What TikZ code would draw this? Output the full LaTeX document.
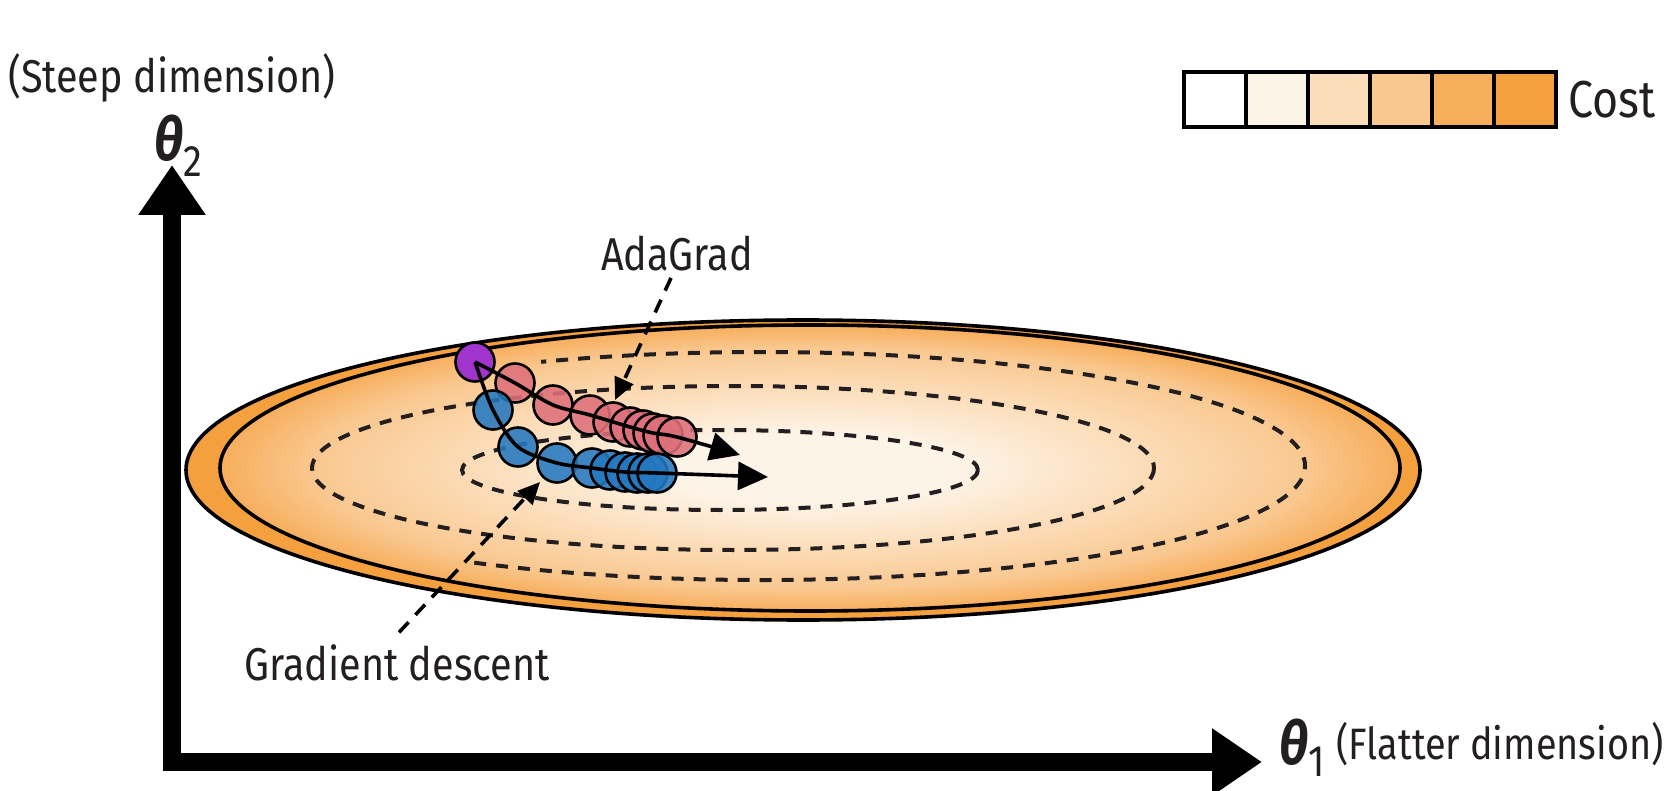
\documentclass[tikz,border=0pt]{standalone}
\usepackage{fontspec}
\setmainfont{Fira Sans}[FakeStretch=0.86]
\usetikzlibrary{arrows.meta,positioning}

\definecolor{cost0}{RGB}{255,255,255}
\definecolor{cost1}{RGB}{253,244,232}
\definecolor{cost2}{RGB}{252,221,185}
\definecolor{cost3}{RGB}{249,200,144}
\definecolor{cost4}{RGB}{247,174,92}
\definecolor{cost5}{RGB}{244,160,62}
\definecolor{adapink}{RGB}{222,112,122}
\definecolor{gdblue}{RGB}{36,120,192}
\definecolor{startpurple}{RGB}{160,52,204}
\definecolor{inkgray}{RGB}{35,31,32}

\pgfdeclareradialshading{costfield}{\pgfpoint{0bp}{0bp}}{color(0bp)=(cost1); color(6bp)=(cost1); color(14bp)=(cost2); color(21bp)=(cost3); color(25bp)=(cost4); color(50bp)=(cost4)}

\begin{document}
\begin{tikzpicture}[x=0.5pt, y=-0.5pt,
    lbl/.style={font=\fontsize{23}{27}\selectfont, text=inkgray, inner sep=0pt},
    costbox/.style={draw=black, line width=2pt, minimum width=31pt, minimum height=27.5pt, inner sep=0pt, outer sep=0pt},
    axisline/.style={line width=9pt, line join=miter, {Triangle[length=25pt,width=32pt]}-{Triangle[length=25pt,width=32pt]}},
    contour/.style={draw=inkgray, line width=2pt, dash pattern=on 6pt off 5pt},
    leader/.style={draw=black, line width=1.8pt, dash pattern=on 7pt off 5pt, -{Triangle[length=11pt,width=10pt]}},
    traj/.style={draw=black, line width=1.8pt, -{Triangle[length=15pt,width=14pt]}},
    stepdot/.style={circle, draw=black, line width=1.3pt, minimum size=19.5pt, inner sep=0pt, fill opacity=0.88},
    adastep/.style={stepdot, fill=adapink},
    gdstep/.style={stepdot, fill=gdblue}]
  \useasboundingbox (0,0) rectangle (1677,791);

  % cost bowl
  \filldraw[fill=cost5, draw=black, line width=1.8pt] (803,470) ellipse [x radius=617, y radius=150];
  \shade[shading=costfield] (810,468) ellipse [x radius=590, y radius=143];
  \draw[line width=1.8pt] (810,468) ellipse [x radius=590, y radius=143];
  \draw[contour] (762,466) ++(122:543 and 114) arc [start angle=122, end angle=-114, x radius=543, y radius=114];
  \draw[contour] (733,468) ellipse [x radius=421, y radius=82];
  \draw[contour] (720,470) ellipse [x radius=258, y radius=40];

  % labels and leaders
  \node[lbl] (adalbl) at (677,254) {AdaGrad};
  \node[lbl] (gdlbl) at (397,663) {Gradient descent};
  \coordinate (adapt) at (615,400);
  \coordinate (gdpt) at (540,482);
  \draw[leader] (adalbl.south) ++(-6,6) coordinate (adafoot) -- (adapt);
  \draw[leader] (gdlbl.north) ++(2,-12) coordinate (gdfoot) -- (gdpt);

  % steps
  \foreach \p [count=\i] in {(515,383),(553,405),(590,415),(613,422),(630,427),(643,430),(653,433),(663,435),(677,437)}
    \node[adastep] (ada\i) at \p {};
  \foreach \p [count=\i] in {(493,410),(518,447),(557,463),(592,468),(610,470),(625,472),(637,473),(648,473),(657,473)}
    \node[gdstep] (gd\i) at \p {};
  \node[stepdot, fill=startpurple, fill opacity=1] (start) at (475,362) {};
  \coordinate (adatip) at (740,455);
  \coordinate (gdtip) at (768,477);
  \draw[traj] plot[smooth, tension=0.5] coordinates {(start.center) (ada1.center) (ada2.center) (ada3.center) (ada5.center) (ada7.center) (ada9.center) (adatip)};
  \draw[traj] plot[smooth, tension=0.5] coordinates {(start.center) (gd1.center) (gd2.center) (gd3.center) (gd4.center) (gd6.center) (gd9.center) (gdtip)};

  % axes
  \coordinate (corner) at (172,762);
  \coordinate (ytip) at (172,165);
  \coordinate (xtip) at (1262,762);
  \draw[axisline] (ytip) -- (corner) -- (xtip);
  \node[lbl] (steep) at (172,78) {(Steep dimension)};
  \node[inner sep=0pt, text=inkgray] (theta2) at (178,146) {{\fontsize{30}{30}\selectfont\bfseries\itshape θ}{\fontsize{22}{22}\selectfont\raisebox{-8pt}{2}}};
  \node[inner sep=0pt, text=inkgray] (theta1) at (1302,748) {{\fontsize{30}{30}\selectfont\bfseries\itshape θ}{\fontsize{22}{22}\selectfont\raisebox{-6pt}{1}}};
  \node[lbl, font=\fontsize{22}{26}\selectfont, anchor=west] (flatter) at (1336,744) {(Flatter dimension)};

  % legend
  \node[costbox, fill=cost0] (leg1) at (1215,100) {};
  \node[costbox, fill=cost1, right=0pt of leg1] (leg2) {};
  \node[costbox, fill=cost2, right=0pt of leg2] (leg3) {};
  \node[costbox, fill=cost3, right=0pt of leg3] (leg4) {};
  \node[costbox, fill=cost4, right=0pt of leg4] (leg5) {};
  \node[costbox, fill=cost5, right=0pt of leg5] (leg6) {};
  \node[lbl, font=\fontsize{26}{30}\selectfont, right=6pt of leg6] (costlbl) {Cost};
\end{tikzpicture}
\end{document}
